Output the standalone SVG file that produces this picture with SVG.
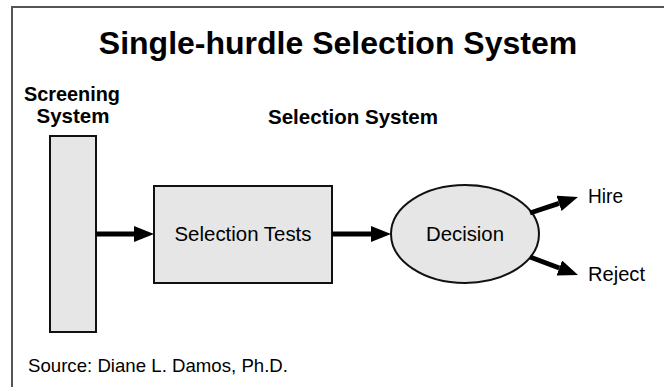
<svg xmlns="http://www.w3.org/2000/svg" width="664" height="387" viewBox="0 0 664 387">
<style>
text{font-family:"Liberation Sans",Arial,sans-serif;fill:#000}
.b{font-weight:bold}
.shape{fill:#e6e6e6;stroke:#111;stroke-width:2}
.conn{stroke:#000;stroke-width:5;fill:none}
</style>
<defs>
<marker id="ah" markerUnits="userSpaceOnUse" markerWidth="20" markerHeight="16" refX="0" refY="8" orient="auto" viewBox="0 0 20 16">
<path d="M0,0 L20,8 L0,16 z" fill="#000"/>
</marker>
</defs>
<rect width="664" height="387" fill="#fff"/>
<path d="M12,387 V7 H664" fill="none" stroke="#555" stroke-width="2"/>
<text class="b" x="338" y="54" font-size="32" text-anchor="middle">Single-hurdle Selection System</text>
<text class="b" x="72" y="101" font-size="21" text-anchor="middle" textLength="96" lengthAdjust="spacingAndGlyphs">Screening</text>
<text class="b" x="73" y="123" font-size="21" text-anchor="middle" textLength="73" lengthAdjust="spacingAndGlyphs">System</text>
<text class="b" x="353" y="124" font-size="21" text-anchor="middle" textLength="170" lengthAdjust="spacingAndGlyphs">Selection System</text>
<g id="screening">
<rect class="shape" x="50" y="136" width="46" height="196"/>
</g>
<g id="tests">
<rect class="shape" x="154" y="186" width="178" height="97"/>
<text x="243" y="241" font-size="21" text-anchor="middle" textLength="137" lengthAdjust="spacingAndGlyphs">Selection Tests</text>
</g>
<g id="decision">
<ellipse class="shape" cx="465" cy="234" rx="74" ry="49"/>
<text x="465" y="241" font-size="21" text-anchor="middle" textLength="78" lengthAdjust="spacingAndGlyphs">Decision</text>
</g>
<g id="hire">
<text x="588" y="203" font-size="20" textLength="35" lengthAdjust="spacingAndGlyphs">Hire</text>
</g>
<g id="reject">
<text x="588" y="281" font-size="20" textLength="57" lengthAdjust="spacingAndGlyphs">Reject</text>
</g>
<g id="connectors">
<line class="conn" x1="96" y1="234" x2="134" y2="234" marker-end="url(#ah)"/>
<line class="conn" x1="332" y1="234" x2="371" y2="234" marker-end="url(#ah)"/>
<line class="conn" x1="530" y1="213" x2="559" y2="203.3" marker-end="url(#ah)"/>
<line class="conn" x1="530" y1="257" x2="559.3" y2="268" marker-end="url(#ah)"/>
</g>
<text x="28" y="372" font-size="19" textLength="260" lengthAdjust="spacingAndGlyphs">Source: Diane L. Damos, Ph.D.</text>
</svg>
